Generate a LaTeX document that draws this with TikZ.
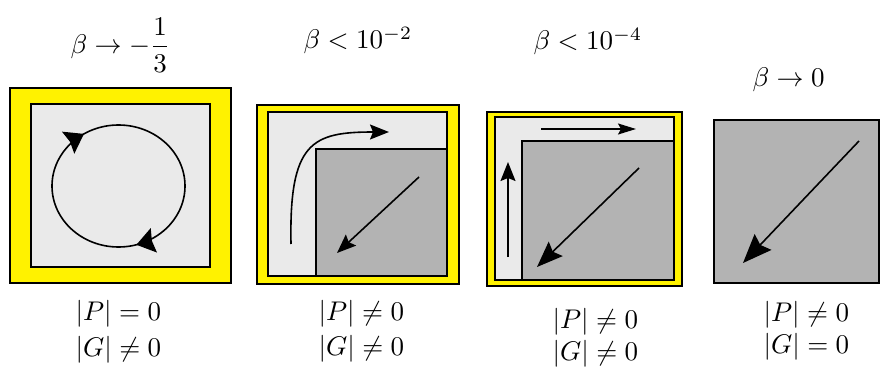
\documentclass[tikz,border=0pt]{standalone}
\usetikzlibrary{arrows.meta,decorations.markings}
\definecolor{lightgr}{HTML}{EAEAEA}
\definecolor{darkgr}{HTML}{B3B3B3}
\begin{document}
\begin{tikzpicture}[x=1pt,y=1pt,
  frame/.style={draw=black,line width=1.6pt},
  lbl/.style={scale=2.7,inner sep=0pt},
  tipA/.tip={Stealth[length=18pt,width=25pt,inset=2pt]},
  tipB/.tip={Stealth[length=19pt,width=15pt,inset=3pt]},
  tipH/.tip={Stealth[length=18pt,width=11pt,inset=3pt]},
  tipC/.tip={Stealth[length=26pt,width=20pt,inset=4pt]},
  tipD/.tip={Stealth[length=29pt,width=23pt,inset=4pt]},
  flow/.style={line width=1.6pt}]
\useasboundingbox (0,0) rectangle (880,370);
\fill[white] (0,0) rectangle (880,370);

% panel 1
\filldraw[frame,fill=yellow] (10,87) rectangle (231,282);
\filldraw[frame,fill=lightgr] (31,103) rectangle (210,266);
\draw[flow,postaction={decorate},decoration={markings,
   mark=at position 0.205 with {\arrow{tipA}},
   mark=at position 0.66 with {\arrow{tipA}}}]
   (185,184) arc[start angle=0,end angle=-360,x radius=66.5,y radius=61];

% panel 2
\filldraw[frame,fill=yellow] (257,86) rectangle (459,265);
\filldraw[frame,fill=lightgr] (268,94) rectangle (447,258);
\filldraw[frame,fill=darkgr] (316,94) rectangle (447,221);
\coordinate (b1) at (291,126);
\coordinate (b2) at (389,238);
\draw[flow,-tipB] (b1) .. controls (289,228) and (312,238) .. (b2);
\coordinate (b3) at (419,193);
\coordinate (b4) at (337,117);
\draw[flow,-tipB] (b3) -- (b4);

% panel 3
\filldraw[frame,fill=yellow] (487,84) rectangle (682,258);
\filldraw[frame,fill=lightgr] (495,90) rectangle (674,253);
\filldraw[frame,fill=darkgr] (522,90) rectangle (674,229);
\coordinate (c1) at (541,241);
\coordinate (c2) at (636,241);
\draw[flow,-tipH] (c1) -- (c2);
\coordinate (c3) at (508,113);
\coordinate (c4) at (508,208);
\draw[flow,-tipB] (c3) -- (c4);
\coordinate (c5) at (639,202);
\coordinate (c6) at (537,103);
\draw[flow,-tipC] (c5) -- (c6);

% panel 4
\filldraw[frame,fill=darkgr] (714,87) rectangle (879.2,250);
\coordinate (d1) at (859,229);
\coordinate (d2) at (743,107);
\draw[flow,-tipD] (d1) -- (d2);

% top labels
\node[lbl,anchor=west] (t1) at (70,325) {$\beta\to-\displaystyle\frac{1}{3}$};
\node[lbl,anchor=base west] (t2) at (303,321) {$\beta<10^{-2}$};
\node[lbl,anchor=base west] (t3) at (533,320) {$\beta<10^{-4}$};
\node[lbl,anchor=base west] (t4) at (752,283) {$\beta\to0$};

% bottom labels
\node[lbl,anchor=base west] (p1) at (75,50) {$|P|=0$};
\node[lbl,anchor=base west] (g1) at (75,14) {$|G|\neq0$};
\node[lbl,anchor=base west] (p2) at (318,50) {$|P|\neq0$};
\node[lbl,anchor=base west] (g2) at (318,15) {$|G|\neq0$};
\node[lbl,anchor=base west] (p3) at (552,42) {$|P|\neq0$};
\node[lbl,anchor=base west] (g3) at (552,10) {$|G|\neq0$};
\node[lbl,anchor=base west] (p4) at (763,49) {$|P|\neq0$};
\node[lbl,anchor=base west] (g4) at (763,17) {$|G|=0$};
\end{tikzpicture}
\end{document}
